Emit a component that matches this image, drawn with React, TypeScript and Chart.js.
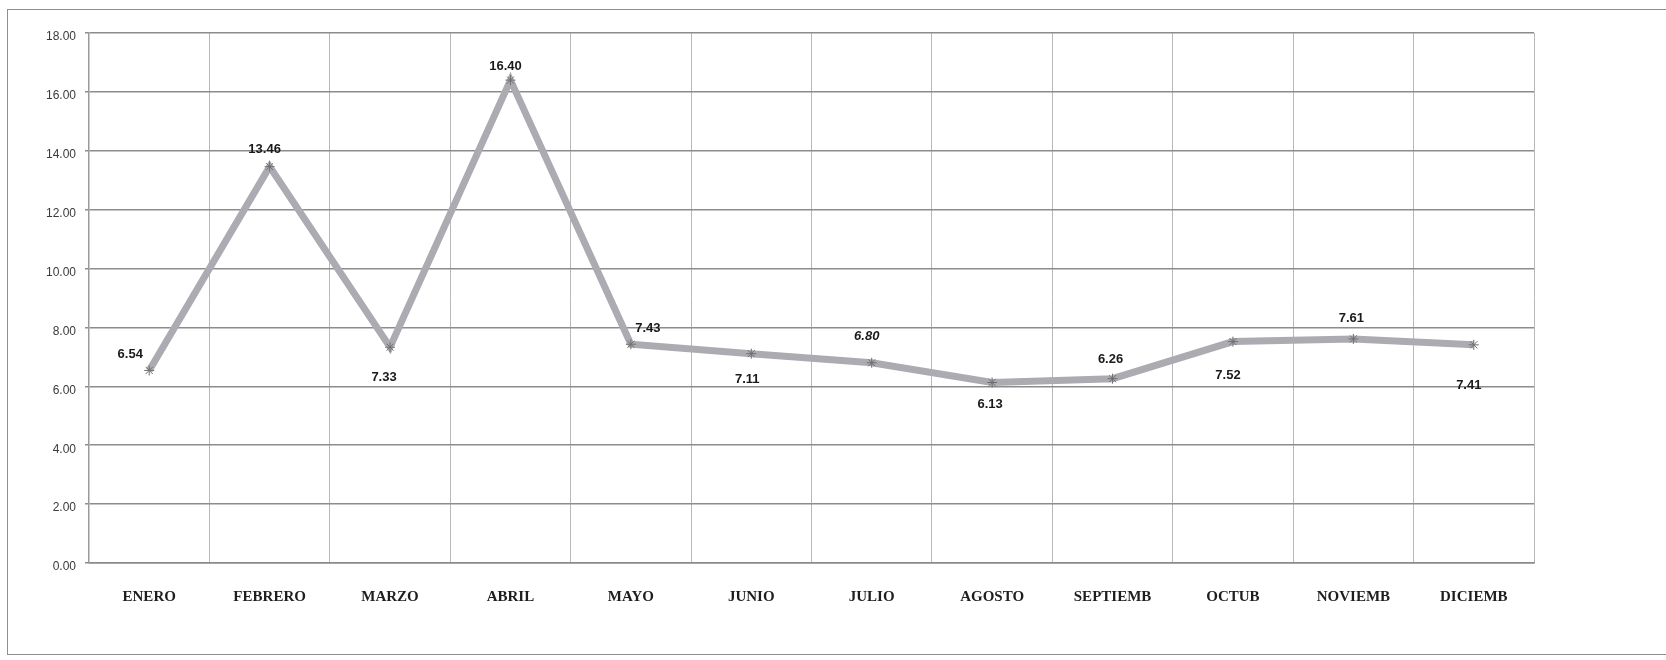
import React, { useEffect, useRef } from "react";
import { Chart, registerables } from "chart.js";

Chart.register(...registerables);

// ---- data ----
const months = [
  "ENERO",
  "FEBRERO",
  "MARZO",
  "ABRIL",
  "MAYO",
  "JUNIO",
  "JULIO",
  "AGOSTO",
  "SEPTIEMB",
  "OCTUB",
  "NOVIEMB",
  "DICIEMB",
];
const values = [6.54, 13.46, 7.33, 16.4, 7.43, 7.11, 6.8, 6.13, 6.26, 7.52, 7.61, 7.41];
const yMin = 0;
const yMax = 18;
const yStep = 2;

// ---- label placement (style only) ----
const labelDx = [-19, -5, -6, -5, 17, -4, -5, -2, -2, -5, -2, -5];
const labelDy = [-16, -17, 30, -14, -16, 26, -26, 22, -19, 34, -21, 41];
const labelItalic = [false, false, false, false, false, false, true, false, false, false, false, false];

const valueLabelPlugin = {
  id: "valueLabels",
  afterDatasetsDraw(chart: any) {
    const ctx = chart.ctx;
    const meta = chart.getDatasetMeta(0);
    ctx.save();
    ctx.fillStyle = "#1a1a1a";
    ctx.textAlign = "center";
    ctx.textBaseline = "middle";
    meta.data.forEach((pt: any, i: number) => {
      ctx.font = `${labelItalic[i] ? "italic " : ""}bold 13px "Liberation Sans", Arial, sans-serif`;
      ctx.fillText(values[i].toFixed(2), pt.x + labelDx[i], pt.y + labelDy[i]);
    });
    ctx.restore();
  },
};

export default function App() {
  const ref = useRef<HTMLCanvasElement | null>(null);

  useEffect(() => {
    if (!ref.current) return;
    const chart = new Chart(ref.current, {
      type: "line",
      data: {
        labels: months,
        datasets: [
          {
            data: values,
            borderColor: "#adabb2",
            borderWidth: 7,
            tension: 0,
            pointStyle: "star",
            pointRadius: 5,
            pointBorderColor: "#6f6f6f",
            pointBackgroundColor: "#6f6f6f",
            pointBorderWidth: 1,
            fill: false,
          },
        ],
      },
      options: {
        responsive: false,
        animation: false,
        layout: { padding: { left: 0, top: 33, right: 132, bottom: 0 } },
        plugins: {
          legend: { display: false },
          tooltip: { enabled: false },
          title: { display: false },
        },
        scales: {
          x: {
            offset: true,
            grid: {
              offset: true,
              color: "#b8b8b8",
              lineWidth: 1,
              drawTicks: false,
            },
            border: { display: true, color: "#8a8a8a", width: 1.5 },
            ticks: {
              padding: 25,
              color: "#1e1e1e",
              font: { family: '"Liberation Serif", "Times New Roman", serif', size: 15, weight: "bold" },
              maxRotation: 0,
              autoSkip: false,
            },
            afterFit(scale: any) {
              scale.height = 97;
            },
          },
          y: {
            min: yMin,
            max: yMax,
            ticks: {
              stepSize: yStep,
              padding: 9,
              labelOffset: 4,
              color: "#3a3a3a",
              font: { family: '"Liberation Sans", Arial, sans-serif', size: 12 },
              callback: (v: any) => Number(v).toFixed(2),
            },
            grid: {
              color: "#8c8c8c",
              lineWidth: 1.5,
              tickLength: 4,
            },
            border: { display: true, color: "#9a9a9a", width: 1.5 },
            afterFit(scale: any) {
              scale.width = 89;
            },
          },
        },
      },
      plugins: [valueLabelPlugin],
    });
    return () => chart.destroy();
  }, []);

  return (
    <div style={{ position: "absolute", left: 0, top: 0, width: 1666, height: 660, background: "#fff", overflow: "hidden" }}>
      <div
        style={{
          position: "absolute",
          left: 7,
          top: 9,
          width: 1700,
          height: 646,
          border: "1.5px solid #8e8e8e",
          boxSizing: "border-box",
        }}
      />
      <canvas ref={ref} width={1666} height={660} style={{ position: "absolute", left: 0, top: 0 }} />
    </div>
  );
}
